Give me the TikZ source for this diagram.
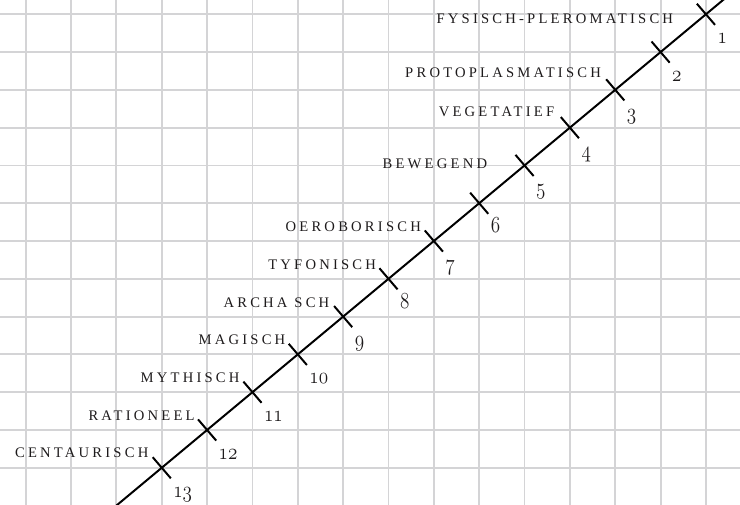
\documentclass[tikz,border=0pt]{standalone}
\usepackage{fontspec}
\usepackage{graphicx}
\newfontfamily\stagefont{Liberation Serif}[LetterSpace=22]

\definecolor{gridgray}{RGB}{212,212,214}
\definecolor{inkgray}{RGB}{30,27,28}
\newcommand{\stageno}[1]{\scalebox{1}[1.2]{$\mathnormal{#1}$}}

\begin{document}
\begin{tikzpicture}[x=1.2cm, y=1cm,
  gridline/.style={draw=gridgray, line width=1.4pt},
  axisline/.style={line width=1.5pt},
  tickmark/.style={line width=1.5pt},
  stage/.style={anchor=base east, inner sep=0pt, text=inkgray,
    font=\stagefont\fontsize{11}{12}\selectfont},
  num/.style={anchor=base west, inner sep=0pt, text=inkgray,
    font=\fontsize{14.4}{15}\selectfont}
]
\useasboundingbox (-0.567,-0.964) rectangle (15.751,12.378);
\clip (-0.567,-0.964) rectangle (15.751,12.378);

% grid
\foreach \x in {0,...,15} \draw[gridline] (\x,-1) -- (\x,12.5);
\foreach \y in {0,...,12} \draw[gridline] (-1,\y) -- (16,\y);

% points on the line
\coordinate (top) at (15.5,12.5);
\coordinate (t1) at (15,12);
\coordinate (t2) at (14,11);
\coordinate (t3) at (13,10);
\coordinate (t4) at (12,9);
\coordinate (t5) at (11,8);
\coordinate (t6) at (10,7);
\coordinate (t7) at (9,6);
\coordinate (t8) at (8,5);
\coordinate (t9) at (7,4);
\coordinate (t10) at (6,3);
\coordinate (t11) at (5,2);
\coordinate (t12) at (4,1);
\coordinate (t13) at (3,0);
\coordinate (bot) at (2,-1);

\draw[axisline] (top) -- (t1) -- (t13) -- (bot);

\draw[tickmark] ([shift={(-0.2,0.28)}]t1) -- ([shift={(0.2,-0.28)}]t1);
\draw[tickmark] ([shift={(-0.2,0.28)}]t2) -- ([shift={(0.2,-0.28)}]t2);
\draw[tickmark] ([shift={(-0.2,0.28)}]t3) -- ([shift={(0.2,-0.28)}]t3);
\draw[tickmark] ([shift={(-0.2,0.28)}]t4) -- ([shift={(0.2,-0.28)}]t4);
\draw[tickmark] ([shift={(-0.2,0.28)}]t5) -- ([shift={(0.2,-0.28)}]t5);
\draw[tickmark] ([shift={(-0.2,0.28)}]t6) -- ([shift={(0.2,-0.28)}]t6);
\draw[tickmark] ([shift={(-0.2,0.28)}]t7) -- ([shift={(0.2,-0.28)}]t7);
\draw[tickmark] ([shift={(-0.2,0.28)}]t8) -- ([shift={(0.2,-0.28)}]t8);
\draw[tickmark] ([shift={(-0.2,0.28)}]t9) -- ([shift={(0.2,-0.28)}]t9);
\draw[tickmark] ([shift={(-0.2,0.28)}]t10) -- ([shift={(0.2,-0.28)}]t10);
\draw[tickmark] ([shift={(-0.2,0.28)}]t11) -- ([shift={(0.2,-0.28)}]t11);
\draw[tickmark] ([shift={(-0.2,0.28)}]t12) -- ([shift={(0.2,-0.28)}]t12);
\draw[tickmark] ([shift={(-0.2,0.28)}]t13) -- ([shift={(0.2,-0.28)}]t13);

% stage names
\node[stage] (fys) at (14.28,11.76) {FYSISCH-PLEROMATISCH};
\node[stage] (proto) at (12.69,10.32) {PROTOPLASMATISCH};
\node[stage] (veg) at (11.66,9.29) {VEGETATIEF};
\node[stage] (bew) at (10.18,7.91) {BEWEGEND};
\node[stage] (oer) at (8.72,6.24) {OEROBORISCH};
\node[stage] (tyf) at (7.73,5.24) {TYFONISCH};
\node[stage] (arch) at (6.70,4.23) {ARCHA SCH};
\node[stage] (mag) at (5.73,3.25) {MAGISCH};
\node[stage] (myt) at (4.72,2.25) {MYTHISCH};
\node[stage] (rat) at (3.73,1.25) {RATIONEEL};
\node[stage] (cen) at (2.71,0.28) {CENTAURISCH};

% numbers
\node[num] (n1) at (15.25,11.22) {\stageno{1}};
\node[num] (n2) at (14.25,10.22) {\stageno{2}};
\node[num] (n3) at (13.25,9.22) {\stageno{3}};
\node[num] (n4) at (12.25,8.22) {\stageno{4}};
\node[num] (n5) at (11.25,7.22) {\stageno{5}};
\node[num] (n6) at (10.25,6.22) {\stageno{6}};
\node[num] (n7) at (9.25,5.22) {\stageno{7}};
\node[num] (n8) at (8.25,4.22) {\stageno{8}};
\node[num] (n9) at (7.25,3.22) {\stageno{9}};
\node[num] (n10) at (6.25,2.22) {\stageno{10}};
\node[num] (n11) at (5.25,1.22) {\stageno{11}};
\node[num] (n12) at (4.25,0.22) {\stageno{12}};
\node[num] (n13) at (3.25,-0.78) {\stageno{13}};
\end{tikzpicture}
\end{document}
